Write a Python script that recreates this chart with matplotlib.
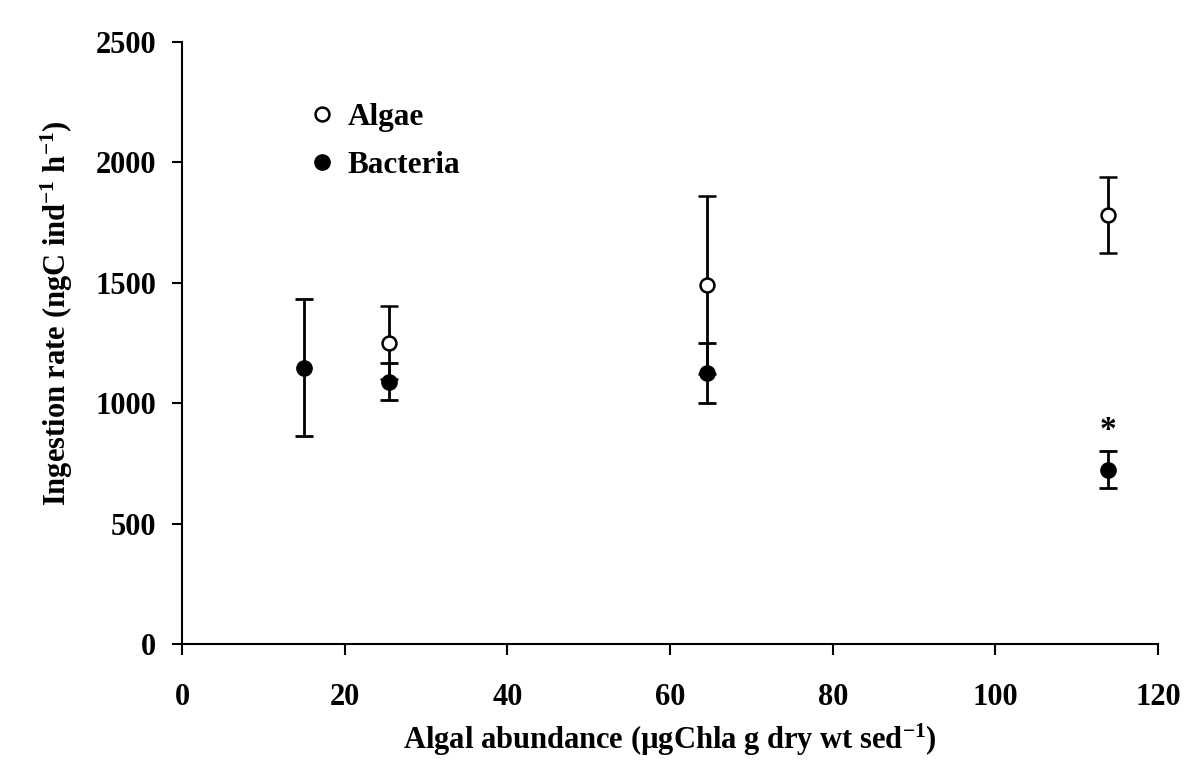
import matplotlib
matplotlib.use("Agg")
import matplotlib.pyplot as plt
from matplotlib.lines import Line2D

# Data
algae_x = [25.5, 64.5, 113.8]
algae_y = [1252, 1490, 1780]
algae_err = [150, 370, 158]

bact_x = [15.0, 25.5, 64.5, 113.8]
bact_y = [1147, 1090, 1125, 724]
bact_err = [285, 75, 126, 78]

xticks = [0, 20, 40, 60, 80, 100, 120]
yticks = [0, 500, 1000, 1500, 2000, 2500]

plt.rcParams['font.family'] = ['Liberation Serif', 'DejaVu Serif']
plt.rcParams['font.weight'] = 'bold'
plt.rcParams['mathtext.fontset'] = 'custom'
plt.rcParams['mathtext.bf'] = 'Liberation Serif:bold'
plt.rcParams['mathtext.rm'] = 'Liberation Serif:bold'
plt.rcParams['mathtext.it'] = 'Liberation Serif:bold'
plt.rcParams['mathtext.default'] = 'bf'

fig = plt.figure(figsize=(11.93, 7.64), dpi=100)
ax = fig.add_axes([0.1526, 0.1571, 0.8181, 0.7879])

ax.errorbar(bact_x, bact_y, yerr=bact_err, fmt='o', color='black', ms=11,
            mfc='black', mec='black', ecolor='black', elinewidth=2.0,
            capsize=6.5, capthick=2.0, zorder=3)
ax.errorbar(algae_x, algae_y, yerr=algae_err, fmt='o', color='black', ms=10,
            mfc='white', mec='black', mew=1.8, ecolor='black', elinewidth=2.0,
            capsize=6.5, capthick=2.0, zorder=4)

ax.text(bact_x[3], 885, '*', ha='center', va='center',
        fontsize=24, fontweight='bold')

ax.set_xlim(0, 120)
ax.set_ylim(0, 2500)
ax.set_xticks(xticks)
ax.set_yticks(yticks)
ax.tick_params(axis='x', direction='out', length=8, width=1.5, labelsize=22, pad=20)
ax.tick_params(axis='y', direction='out', length=7.5, width=1.5, labelsize=22, pad=11)
for lab in ax.get_xticklabels() + ax.get_yticklabels():
    lab.set_fontweight('bold')
for s in ['top', 'right']:
    ax.spines[s].set_visible(False)
for s in ['left', 'bottom']:
    ax.spines[s].set_linewidth(1.5)

ax.set_xlabel(r'Algal abundance (µgChla g dry wt sed$^{-1}$)', fontsize=22,
              fontweight='bold', labelpad=7)
ax.set_ylabel(r'Ingestion rate (ngC ind$^{-1}$ h$^{-1}$)', fontsize=22,
              fontweight='bold')
ax.yaxis.set_label_coords(-0.11, 0.55)

handles = [Line2D([], [], ls='none', marker='o', ms=10, mfc='white', mec='black', mew=1.8),
           Line2D([], [], ls='none', marker='o', ms=11, mfc='black', mec='black')]
leg = ax.legend(handles, ['Algae', 'Bacteria'], loc='upper left',
                bbox_to_anchor=(0.099, 0.945), frameon=False, handletextpad=0.3,
                labelspacing=0.6, handlelength=1.0,
                prop={'family': 'Liberation Serif', 'weight': 'bold', 'size': 22.5})

fig.savefig('out.png', dpi=100)
